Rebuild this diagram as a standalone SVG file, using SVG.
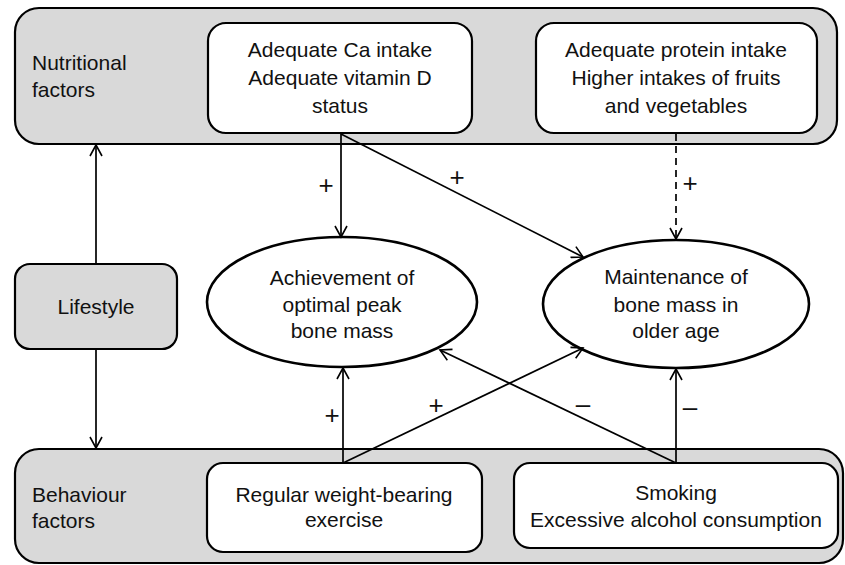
<svg xmlns="http://www.w3.org/2000/svg" width="845" height="565" viewBox="0 0 845 565">
<defs>
<marker id="arr" markerWidth="14" markerHeight="14" refX="12" refY="7" orient="auto" markerUnits="userSpaceOnUse">
<path d="M1,1 L12,7 L1,13" fill="none" stroke="#000" stroke-width="1.6"/>
</marker>
<style>
.grp{fill:#d9d9d9;stroke:#000;stroke-width:2.2}
.box{fill:#fff;stroke:#000;stroke-width:2.2}
.ell{fill:#fff;stroke:#000;stroke-width:2.6}
.t{font-family:"Liberation Sans",Arial,sans-serif;font-size:21px;fill:#111}
.c{text-anchor:middle}
.lbl{font-family:"Liberation Sans",Arial,sans-serif;font-size:26px;fill:#111;text-anchor:middle}
.ln{stroke:#000;stroke-width:1.7;fill:none;marker-end:url(#arr)}
.dash{stroke-dasharray:7,5}
</style>
</defs>
<rect width="845" height="565" fill="#fff"/>

<g id="nutritional-factors">
<rect class="grp" x="15" y="8" width="822" height="136" rx="24"/>
<text class="t" x="32" y="70">Nutritional</text>
<text class="t" x="32" y="97">factors</text>
</g>
<g id="behaviour-factors">
<rect class="grp" x="15" y="449" width="828" height="114" rx="24"/>
<text class="t" x="32" y="502">Behaviour</text>
<text class="t" x="32" y="528">factors</text>
</g>
<g id="ca-vitd">
<rect class="box" x="208" y="23" width="264" height="110" rx="18"/>
<text class="t c" x="340" y="57">Adequate Ca intake</text>
<text class="t c" x="340" y="85">Adequate vitamin D</text>
<text class="t c" x="340" y="113">status</text>
</g>
<g id="protein-fruits">
<rect class="box" x="536" y="23" width="281" height="110" rx="18"/>
<text class="t c" x="676" y="57">Adequate protein intake</text>
<text class="t c" x="676" y="85">Higher intakes of fruits</text>
<text class="t c" x="676" y="113">and vegetables</text>
</g>
<g id="lifestyle">
<rect class="grp" x="15" y="264" width="162" height="85" rx="15"/>
<text class="t c" x="96" y="314">Lifestyle</text>
</g>
<g id="peak-bone-mass">
<ellipse class="ell" cx="342" cy="302" rx="135" ry="65"/>
<text class="t c" x="342" y="285">Achievement of</text>
<text class="t c" x="342" y="312">optimal peak</text>
<text class="t c" x="342" y="338">bone mass</text>
</g>
<g id="older-age">
<ellipse class="ell" cx="676" cy="304" rx="133" ry="64"/>
<text class="t c" x="676" y="284">Maintenance of</text>
<text class="t c" x="676" y="312">bone mass in</text>
<text class="t c" x="676" y="338">older age</text>
</g>
<g id="exercise">
<rect class="box" x="207" y="463" width="275" height="89" rx="16"/>
<text class="t c" x="344" y="502">Regular weight-bearing</text>
<text class="t c" x="344" y="527">exercise</text>
</g>
<g id="smoking-alcohol">
<rect class="box" x="514" y="463" width="324" height="85" rx="16"/>
<text class="t c" x="676" y="500">Smoking</text>
<text class="t c" x="676" y="527">Excessive alcohol consumption</text>
</g>

<g id="connectors">
<line class="ln" x1="96" y1="264" x2="96" y2="145"/>
<line class="ln" x1="96" y1="349" x2="96" y2="448"/>
<line class="ln" x1="341" y1="134" x2="341" y2="237"/>
<line class="ln" x1="341" y1="134" x2="583" y2="257"/>
<line class="ln dash" x1="676" y1="134" x2="676" y2="239"/>
<line class="ln" x1="343" y1="463" x2="343" y2="368"/>
<line class="ln" x1="343" y1="463" x2="583" y2="348"/>
<line class="ln" x1="676" y1="463" x2="440" y2="350"/>
<line class="ln" x1="676" y1="463" x2="676" y2="369"/>
<text class="lbl" x="326" y="194">+</text>
<text class="lbl" x="457" y="186">+</text>
<text class="lbl" x="690" y="192">+</text>
<text class="lbl" x="332" y="424">+</text>
<text class="lbl" x="436" y="414">+</text>
<text class="lbl" x="583" y="413">–</text>
<text class="lbl" x="690" y="416">–</text>
</g>
</svg>
